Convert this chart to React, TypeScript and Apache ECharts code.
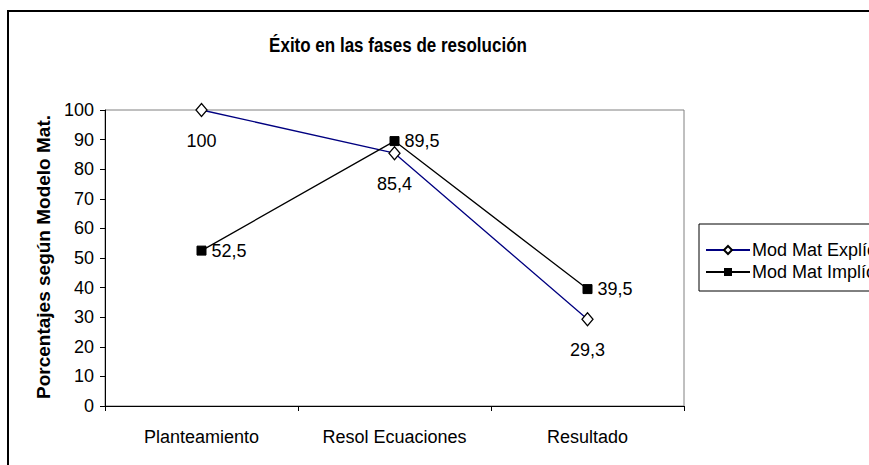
import React, { useEffect, useRef } from "react";
import * as echarts from "echarts";

const categories = ["Planteamiento", "Resol Ecuaciones", "Resultado"];
const explicitValues = [100, 85.4, 29.3];
const implicitValues = [52.5, 89.5, 39.5];
const seriesNames = ["Mod Mat Explícito", "Mod Mat Implícito"];
const titleText = "Éxito en las fases de resolución";
const yAxisTitle = "Porcentajes según Modelo Mat.";

const FONT = "'Liberation Sans', Arial, sans-serif";
const fmt = (v: number) => String(v).replace(".", ",");

export default function App() {
  const ref = useRef<HTMLDivElement>(null);
  useEffect(() => {
    if (!ref.current) return;
    const chart = echarts.init(ref.current, undefined, { renderer: "svg" });
    chart.setOption({
      animation: false,
      backgroundColor: "#ffffff",
      textStyle: { fontFamily: FONT },
      grid: {
        left: 105,
        right: 185,
        top: 110,
        bottom: 59,
        show: true,
        borderColor: "#808080",
        borderWidth: 1,
        backgroundColor: "#ffffff",
      },
      xAxis: {
        type: "category",
        data: categories,
        boundaryGap: true,
        axisLine: { lineStyle: { color: "#000", width: 1 } },
        axisTick: { show: true, inside: false, length: 5, lineStyle: { color: "#000" } },
        axisLabel: { color: "#000", fontSize: 18, fontFamily: FONT, margin: 22 },
        splitLine: { show: false },
      },
      yAxis: {
        type: "value",
        min: 0,
        max: 100,
        interval: 10,
        axisLine: { show: true, lineStyle: { color: "#000", width: 1 } },
        axisTick: { show: true, inside: false, length: 5, lineStyle: { color: "#000" } },
        axisLabel: { color: "#000", fontSize: 18, fontFamily: FONT, margin: 11 },
        splitLine: { show: false },
      },
      legend: {
        orient: "vertical",
        left: 700,
        top: 236,
        itemWidth: 44,
        itemHeight: 10,
        itemGap: 4,
        textStyle: { color: "#000", fontSize: 18, fontFamily: FONT, padding: [0, 0, 0, -3] },
        data: seriesNames,
      },
      series: [
        {
          name: seriesNames[0],
          type: "line",
          data: explicitValues,
          symbol: "diamond",
          symbolSize: [11, 13],
          lineStyle: { color: "#000080", width: 1.3 },
          itemStyle: { color: "#ffffff", borderColor: "#000000", borderWidth: 1.3 },
          label: {
            show: true,
            position: "bottom",
            distance: 15,
            color: "#000",
            fontSize: 18,
            fontFamily: FONT,
            formatter: (p: any) => fmt(p.value),
          },
          z: 3,
        },
        {
          name: seriesNames[1],
          type: "line",
          data: implicitValues,
          symbol: "rect",
          symbolSize: 9,
          lineStyle: { color: "#000000", width: 1.3 },
          itemStyle: { color: "#000000", borderColor: "#000000" },
          label: {
            show: true,
            position: "right",
            distance: 5,
            color: "#000",
            fontSize: 18,
            fontFamily: FONT,
            formatter: (p: any) => fmt(p.value),
          },
          z: 4,
        },
      ],
      graphic: [
        {
          type: "rect",
          z: -10,
          silent: true,
          shape: { x: 8, y: 11, width: 1000, height: 1000 },
          style: { fill: "none", stroke: "#000", lineWidth: 2 },
        },
        {
          type: "rect",
          z: -5,
          silent: true,
          shape: { x: 699, y: 224, width: 400, height: 67 },
          style: { fill: "#ffffff", stroke: "#000", lineWidth: 1 },
        },
        {
          type: "text",
          x: 398,
          y: 45,
          scaleY: 1.2,
          style: {
            text: titleText,
            fill: "#000",
            font: `bold 17px ${FONT}`,
            textAlign: "center",
            textVerticalAlign: "middle",
          },
        },
        {
          type: "text",
          x: 43,
          y: 257,
          rotation: Math.PI / 2,
          style: {
            text: yAxisTitle,
            fill: "#000",
            font: `bold 19px ${FONT}`,
            textAlign: "center",
            textVerticalAlign: "middle",
          },
        },
      ],
    });
    return () => chart.dispose();
  }, []);
  return (
    <div
      ref={ref}
      style={{ position: "fixed", left: 0, top: 0, width: 869, height: 465 }}
    />
  );
}
